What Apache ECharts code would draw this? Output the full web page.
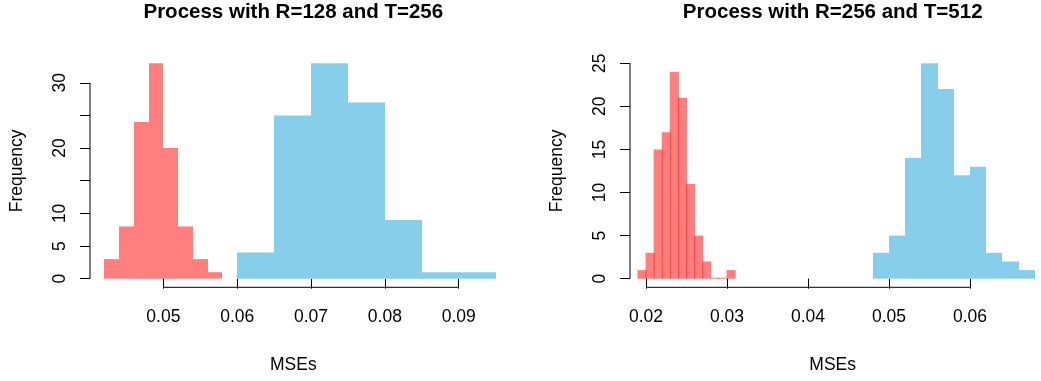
<!DOCTYPE html>
<html>
<head>
<meta charset="utf-8">
<script src="https://cdn.jsdelivr.net/npm/echarts@6/dist/echarts.min.js"></script>
<style>
html,body{margin:0;padding:0;background:#fff;}
#chart{width:1041px;height:381px;}
</style>
</head>
<body>
<div id="chart"></div>
<script>
// ---- Data ----
const titles = ['Process with R=128 and T=256', 'Process with R=256 and T=512'];
const xName = 'MSEs';
const yName = 'Frequency';

const leftRedBreaks = [0.042, 0.044, 0.046, 0.048, 0.050, 0.052, 0.054, 0.056, 0.058];
const leftRedCounts = [3, 8, 24, 33, 20, 8, 3, 1];
const leftBlueBreaks = [0.060, 0.065, 0.070, 0.075, 0.080, 0.085, 0.090, 0.095];
const leftBlueCounts = [4, 25, 33, 27, 9, 1, 1];

const rightRedBreaks = [0.019, 0.020, 0.021, 0.022, 0.023, 0.024, 0.025, 0.026, 0.027, 0.028, 0.029, 0.030, 0.031];
const rightRedCounts = [1, 3, 15, 17, 24, 21, 11, 5, 2, 0, 0, 1];
const rightBlueBreaks = [0.048, 0.050, 0.052, 0.054, 0.056, 0.058, 0.060, 0.062, 0.064, 0.066, 0.068];
const rightBlueCounts = [3, 5, 14, 25, 22, 12, 13, 3, 2, 1];

const leftXTicks = [0.05, 0.06, 0.07, 0.08, 0.09];
const leftYTicks = [0, 5, 10, 15, 20, 25, 30];
const leftYLabels = [0, 5, 10, 20, 30];
const rightXTicks = [0.02, 0.03, 0.04, 0.05, 0.06];
const rightYTicks = [0, 5, 10, 15, 20, 25];
const rightYLabels = [0, 5, 10, 15, 20, 25];

// ---- Layout / style ----
const FONT = 'Liberation Sans, Arial, Helvetica, sans-serif';
const AX_FS = 17.5;
const RED = 'rgba(255,0,0,0.5)';
const BLUE = '#87CEEB';

const panels = [
  {left: 90, width: 406.6, xmin: 0.04007, xmax: 0.09513, ymin: -1.32, ymax: 34.32,
   xTicks: leftXTicks, yTicks: leftYTicks, yLabels: leftYLabels},
  {left: 630, width: 405.4, xmin: 0.01802, xmax: 0.06807, ymin: -1, ymax: 26,
   xTicks: rightXTicks, yTicks: rightYTicks, yLabels: rightYLabels}
];
const TOP = 54.6, HEIGHT = 232.7;

function fmtX(v) { return v.toFixed(2); }

// mode: 'snap' -> integer pixel edges (no seams); number -> overlap in px (seams)
function histSeries(breaks, counts, color, idx, mode) {
  const data = counts.map((c, i) => [breaks[i], breaks[i + 1], c]);
  return {
    type: 'custom', xAxisIndex: idx, yAxisIndex: idx, data: data, clip: false, silent: true,
    encode: {x: [0, 1], y: 2},
    renderItem: function (params, api) {
      const p0 = api.coord([api.value(0), api.value(2)]);
      const p1 = api.coord([api.value(1), 0]);
      let h = p1[1] - p0[1];
      if (h < 1) h = 1;
      let x0 = p0[0], x1 = p1[0];
      if (mode === 'snap') { x0 = Math.round(x0); x1 = Math.round(x1); }
      else { x0 -= mode; x1 += mode; }
      return {
        type: 'rect',
        shape: {x: x0, y: p1[1] - h, width: x1 - x0, height: h},
        style: {fill: color}
      };
    }
  };
}

function axisLineSeries(points, idx) {
  return {
    type: 'line', xAxisIndex: idx, yAxisIndex: idx, data: points, clip: false, silent: true,
    symbol: 'none', lineStyle: {color: '#000', width: 1}, animation: false
  };
}

const grid = [], xAxis = [], yAxis = [], title = [], series = [];
panels.forEach((p, i) => {
  grid.push({left: p.left, top: TOP, width: p.width, height: HEIGHT, containLabel: false});
  xAxis.push({
    type: 'value', gridIndex: i, min: p.xmin, max: p.xmax,
    axisLine: {show: false},
    axisTick: {show: true, length: 10, lineStyle: {color: '#000', width: 1}, customValues: p.xTicks},
    axisLabel: {show: true, customValues: p.xTicks, formatter: fmtX, margin: 21,
      fontFamily: FONT, fontSize: AX_FS, color: '#000'},
    splitLine: {show: false},
    name: xName, nameLocation: 'middle', nameGap: 69,
    nameTextStyle: {fontFamily: FONT, fontSize: AX_FS, color: '#000'}
  });
  yAxis.push({
    type: 'value', gridIndex: i, min: p.ymin, max: p.ymax,
    axisLine: {show: false},
    axisTick: {show: true, length: 10, lineStyle: {color: '#000', width: 1}, customValues: p.yTicks},
    axisLabel: {show: true, customValues: p.yLabels, rotate: 90, margin: 21,
      fontFamily: FONT, fontSize: AX_FS, color: '#000'},
    splitLine: {show: false},
    name: yName, nameLocation: 'middle', nameGap: 64, nameRotate: 90,
    nameTextStyle: {fontFamily: FONT, fontSize: AX_FS, color: '#000'}
  });
  title.push({
    text: titles[i], left: p.left + p.width / 2, top: 2, textAlign: 'center', padding: 0,
    textStyle: {fontFamily: FONT, fontSize: 20.5, fontWeight: 'bold', color: '#000'}
  });
  series.push(axisLineSeries([[p.xmin, p.yTicks[0]], [p.xmin, p.yTicks[p.yTicks.length - 1]]], i));
  series.push(axisLineSeries([[p.xTicks[0], p.ymin], [p.xTicks[p.xTicks.length - 1], p.ymin]], i));
});

series.push(histSeries(leftRedBreaks, leftRedCounts, RED, 0, 'snap'));
series.push(histSeries(leftBlueBreaks, leftBlueCounts, BLUE, 0, 'snap'));
series.push(histSeries(rightRedBreaks, rightRedCounts, RED, 1, 0.5));
series.push(histSeries(rightBlueBreaks, rightBlueCounts, BLUE, 1, 'snap'));

const chart = echarts.init(document.getElementById('chart'), null, {renderer: 'canvas'});
chart.setOption({
  animation: false,
  backgroundColor: '#fff',
  title: title, grid: grid, xAxis: xAxis, yAxis: yAxis, series: series
});
</script>
</body>
</html>
